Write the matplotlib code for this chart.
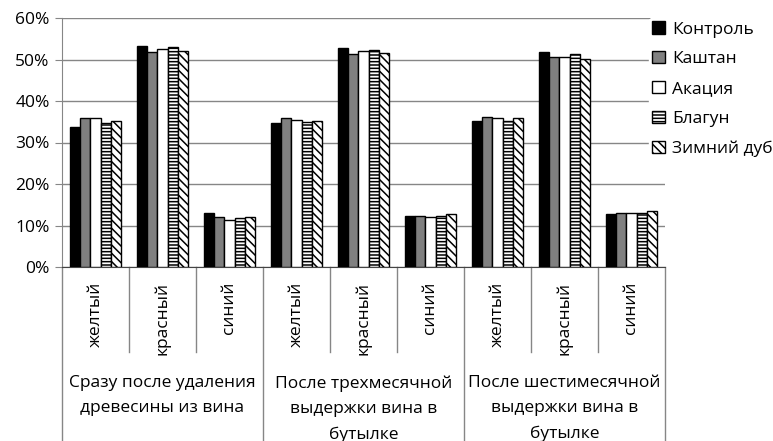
import matplotlib
matplotlib.use("Agg")
import matplotlib.pyplot as plt
import matplotlib.transforms as mtransforms
from matplotlib.ticker import PercentFormatter
import numpy as np

plt.rcParams['font.family'] = ['Open Sans', 'DejaVu Sans']
plt.rcParams['hatch.linewidth'] = 1.1

# Данные (доли)
colors_cat = ['желтый', 'красный', 'синий'] * 3
groups = ['Сразу после удаления\nдревесины из вина',
          'После трехмесячной\nвыдержки вина в\nбутылке',
          'После шестимесячной\nвыдержки вина в\nбутылке']
series = ['Контроль', 'Каштан', 'Акация', 'Благун', 'Зимний дуб']

kontrol = [0.337, 0.533, 0.129, 0.346, 0.527, 0.123, 0.352, 0.519, 0.128]
kashtan = [0.358, 0.517, 0.120, 0.358, 0.514, 0.123, 0.361, 0.505, 0.131]
akacia = [0.358, 0.525, 0.113, 0.354, 0.520, 0.120, 0.358, 0.505, 0.131]
blagun = [0.346, 0.530, 0.119, 0.349, 0.524, 0.122, 0.353, 0.513, 0.131]
zimniy = [0.353, 0.520, 0.120, 0.353, 0.515, 0.127, 0.358, 0.501, 0.136]
values = [kontrol, kashtan, akacia, blagun, zimniy]

faces = ['black', '#808080', 'white', 'white', 'white']
hatches = [None, None, None, '-----', '\\\\\\\\']

fs = 12.5

fig = plt.figure(figsize=(7.73, 4.41), dpi=100)
W, H = 773, 441
ax = fig.add_axes([62 / W, 1 - 267 / H, (665 - 62) / W, (267 - 18) / H])

x = np.arange(len(colors_cat))
bw = 0.155
for i, (name, vals) in enumerate(zip(series, values)):
    ax.bar(x + (i - 2) * bw, vals, width=bw, color=faces[i], edgecolor='black',
           linewidth=1.0, hatch=hatches[i], label=name, zorder=3)

ax.set_xlim(-0.5, len(colors_cat) - 0.5)
ax.set_ylim(0, 0.6)
ax.set_yticks(np.arange(0, 0.61, 0.1))
ax.yaxis.set_major_formatter(PercentFormatter(1.0, decimals=0))
ax.tick_params(axis='y', length=5, color='#868686', labelsize=fs, pad=4)
ax.set_xticks([])
ax.grid(axis='y', color='#868686', linewidth=1.0, zorder=0)
for s in ['top', 'right']:
    ax.spines[s].set_visible(False)
ax.spines['left'].set_color('#868686')
ax.spines['bottom'].set_color('#444444')

# Многоуровневая ось категорий
tr = mtransforms.blended_transform_factory(ax.transData, ax.transAxes)
ax_h = 267 - 18
for xi, lab in zip(x, colors_cat):
    ax.text(xi, -15 / ax_h, lab, rotation=90, ha='center', va='top',
            fontsize=fs, transform=tr)
for b in np.arange(-0.5, len(colors_cat), 1.0):
    if b in (-0.5, 2.5, 5.5, 8.5):
        y_end = -(441 - 267) / ax_h
    else:
        y_end = -(352 - 267) / ax_h
    ax.plot([b, b], [0, y_end], color='#868686', linewidth=1.0,
            transform=tr, clip_on=False)
for g, lab in enumerate(groups):
    ax.text(g * 3 + 1, -(375 - 267) / ax_h, lab, ha='center', va='top',
            fontsize=fs, linespacing=1.78, transform=tr)

leg = ax.legend(loc='upper left', bbox_to_anchor=(649 / W, 1 - 18 / H),
                bbox_transform=fig.transFigure, frameon=True, fontsize=fs,
                handlelength=0.7, handleheight=0.7, handletextpad=0.45,
                labelspacing=0.78, borderpad=0.2, borderaxespad=0)
leg.get_frame().set_edgecolor('white')
leg.get_frame().set_facecolor('white')
leg.get_frame().set_alpha(1.0)

fig.savefig('out.png', dpi=100)
